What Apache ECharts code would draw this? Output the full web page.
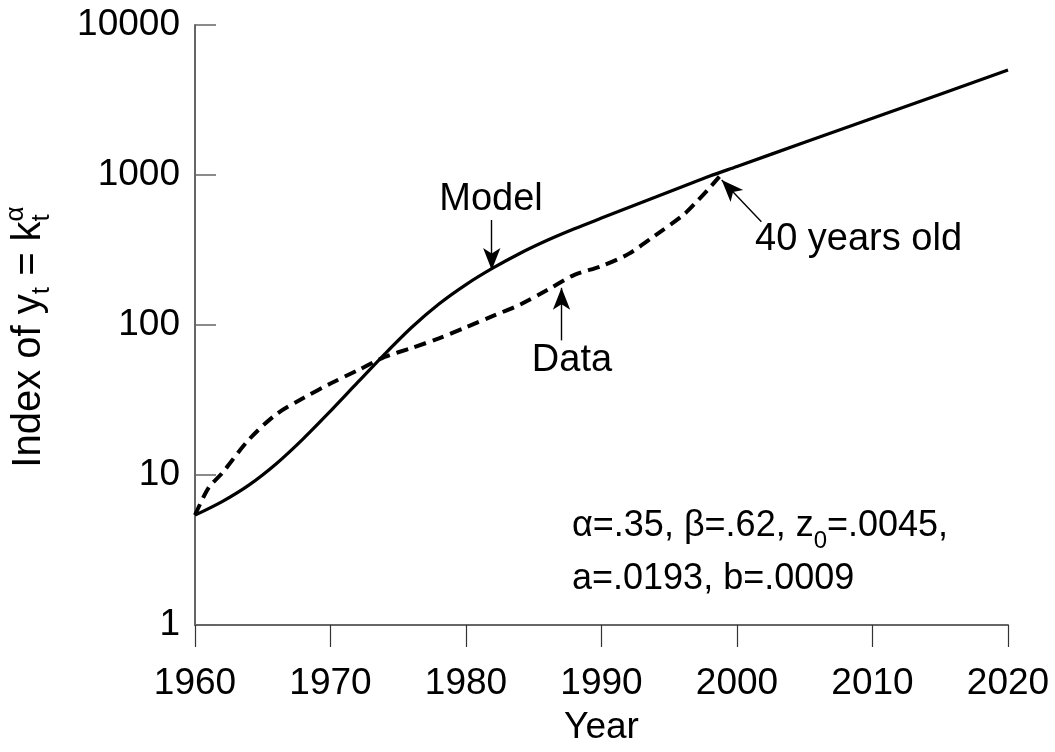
<!DOCTYPE html>
<html><head><meta charset="utf-8">
<script src="https://cdn.jsdelivr.net/npm/echarts@6/dist/echarts.min.js"></script>
<style>html,body{margin:0;padding:0;background:#fff}#c{width:1055px;height:752px}</style>
</head><body><div id="c"></div>
<script>
// ---- data ----
const modelYears  = [1960,1962,1964,1966,1968,1970,1972,1974,1976,1978,1980,1982,1984,1986,1988,1990,1992,1994,1996,1998,2000,2005,2010,2015,2020];
const modelValues = [5.4,6.65,8.6,11.9,17.5,26.7,41.4,64,96.6,138,186,240,301,367,438,516,607,713,838,984,1140,1652,2390,3458,5012];
const dataYears   = [1960,1961,1962,1964,1966,1968,1970,1972,1974,1976,1978,1980,1982,1984,1986,1988,1990,1992,1994,1996,1997,1998,1998.7];
const dataValues  = [5.4,8.2,10.3,17.3,25.4,32.6,40.7,49.8,61.2,70.3,81.5,96.6,115,137,171,216,247,298,398,538,661,826,975];
const xTickLabels = [1960,1970,1980,1990,2000,2010,2020];
const yTickLabels = [1,10,100,1000,10000];
// arrows: [fromYear, fromValue, toYear, toValue]
const arrowModel = [1981.9, 501, 1981.9, 233];
const arrowData  = [1987.05, 79, 1987.05, 177];
const arrowAge   = [2001.8, 488, 1998.87, 926];

const FONT = '"Liberation Sans", Arial, Helvetica, sans-serif';
const pair = (xs, ys) => xs.map((x, i) => [x, ys[i]]);
const arrowSeg = a => [{coord: [a[0], a[1]]}, {coord: [a[2], a[3]]}];

// measure helper for the composite y-axis title
const ctx = document.createElement('canvas').getContext('2d');
function tw(t, size) { ctx.font = size + 'px ' + FONT; return ctx.measureText(t).width; }
const MS = 40, SS = 26;
const wA = tw('Index of y', MS), wS1 = tw('t', SS), wB = tw(' = k', MS), wS2 = tw('t', SS), wP = tw('α', SS);
const W = wA + wS1 + wB + Math.max(wS2, wP);
const x0 = -W / 2;
function t(text, x, y, size) {
  return {type: 'text', x: x, y: y, style: {text: text, fill: '#000', fontSize: size, fontFamily: FONT,
    align: 'left', textAlign: 'left', verticalAlign: 'middle', textVerticalAlign: 'middle'}};
}

const chart = echarts.init(document.getElementById('c'), null, {renderer: 'canvas'});
chart.setOption({
  animation: false,
  backgroundColor: '#fff',
  grid: {left: 195, right: 47, top: 25, bottom: 127, containLabel: false},
  xAxis: {
    type: 'value', min: 1960, max: 2020, interval: 10,
    axisLine: {show: true, lineStyle: {color: '#666', width: 2}},
    axisTick: {show: true, length: 22, lineStyle: {color: '#333', width: 1.2}},
    axisLabel: {fontSize: 37, color: '#000', fontFamily: FONT, margin: 40,
      formatter: v => xTickLabels.includes(v) ? String(v) : ''},
    splitLine: {show: false},
    name: 'Year', nameLocation: 'middle', nameGap: 84,
    nameTextStyle: {fontSize: 37, color: '#000', fontFamily: FONT}
  },
  yAxis: {
    type: 'log', logBase: 10, min: 1, max: 10000,
    axisLine: {show: true, lineStyle: {color: '#666', width: 2}},
    axisTick: {show: true, inside: true, length: 21, lineStyle: {color: '#666', width: 1.5}},
    axisLabel: {fontSize: 37, color: '#000', fontFamily: FONT, margin: 15,
      formatter: v => yTickLabels.includes(Math.round(v)) ? String(Math.round(v)) : ''},
    splitLine: {show: false},
    minorTick: {show: false}
  },
  series: [
    {
      type: 'line', name: 'Model', data: pair(modelYears, modelValues),
      smooth: 0.3, showSymbol: false, symbol: 'none',
      lineStyle: {color: '#000', width: 3.2},
      markLine: {
        silent: true, symbol: ['none', 'arrow'], symbolSize: [13, 22],
        label: {show: false},
        lineStyle: {color: '#000', width: 1.4, type: 'solid'},
        data: [arrowSeg(arrowModel), arrowSeg(arrowData), arrowSeg(arrowAge)]
      }
    },
    {
      type: 'line', name: 'Data', data: pair(dataYears, dataValues),
      smooth: 0.3, showSymbol: false, symbol: 'none',
      lineStyle: {color: '#000', width: 4, type: [12, 7]}
    }
  ],
  graphic: [
    {type: 'group', x: 41.7, y: 337, rotation: Math.PI / 2, children: [
      t('Index of y', x0, -0.31 * MS, MS),
      t('t', x0 + wA, 8 - 0.31 * SS, SS),
      t(' = k', x0 + wA + wS1, -0.31 * MS, MS),
      t('t', x0 + wA + wS1 + wB, 8 - 0.31 * SS, SS),
      t('α', x0 + wA + wS1 + wB, -18 - 0.31 * SS, SS)
    ]},
    {type: 'text', x: 491, y: 200, style: {text: 'Model', fill: '#000', fontSize: 38, fontFamily: FONT,
      align: 'center', textAlign: 'center', verticalAlign: 'middle', textVerticalAlign: 'middle'}},
    {type: 'text', x: 572, y: 361, style: {text: 'Data', fill: '#000', fontSize: 38, fontFamily: FONT,
      align: 'center', textAlign: 'center', verticalAlign: 'middle', textVerticalAlign: 'middle'}},
    {type: 'text', x: 755, y: 240, style: {text: '40 years old', fill: '#000', fontSize: 38, fontFamily: FONT,
      align: 'left', textAlign: 'left', verticalAlign: 'middle', textVerticalAlign: 'middle'}},
    {type: 'text', x: 572, y: 553, style: {
      text: 'α=.35, β=.62, z{s|0}=.0045,\na=.0193, b=.0009',
      fill: '#000', fontSize: 36, fontFamily: FONT, lineHeight: 53,
      align: 'left', textAlign: 'left', verticalAlign: 'middle', textVerticalAlign: 'middle',
      rich: {s: {fontSize: 24, fontFamily: FONT, fill: '#000', lineHeight: 24, verticalAlign: 'bottom'}}
    }}
  ]
});
</script>
</body></html>
